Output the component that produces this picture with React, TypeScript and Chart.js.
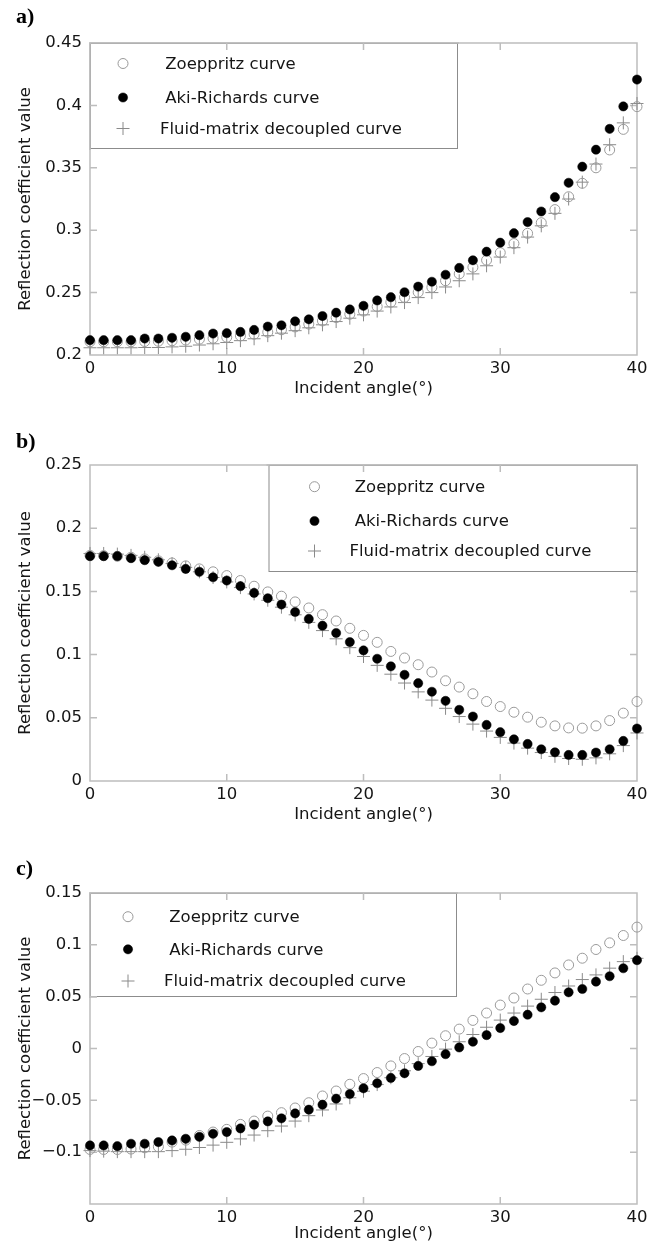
import React, { useEffect, useRef } from 'react';
import { Chart, registerables } from 'chart.js';

Chart.register(...registerables);

const FONT = '"DejaVu Sans", "Liberation Sans", Arial, sans-serif';
const TEXT_COLOR = '#151515';
const FRAME_COLOR = '#bdbdbd';
const LEGEND_BORDER = '#8c8c8c';
const TICK_LEN = 7;

// Incident angle in degrees
const anglesDeg = [
  0, 1, 2, 3, 4, 5, 6, 7, 8, 9, 10, 11, 12, 13, 14, 15, 16, 17, 18, 19, 20,
  21, 22, 23, 24, 25, 26, 27, 28, 29, 30, 31, 32, 33, 34, 35, 36, 37, 38, 39, 40,
];

const seriesLabels = [' Zoeppritz curve', ' Aki-Richards curve', 'Fluid-matrix decoupled curve'];

const xTickValues = [0, 10, 20, 30, 40];
const xTickLabels = ['0', '10', '20', '30', '40'];
const xAxisTitle = 'Incident angle(°)';
const yAxisTitle = 'Reflection coefficient value';

// ---- Panel a ----
const zoeppritzA = [
  0.2106, 0.2106, 0.2106, 0.2106, 0.2108, 0.211, 0.2114, 0.212, 0.2127, 0.2134, 0.2142,
  0.2153, 0.2167, 0.2183, 0.2202, 0.2225, 0.2248, 0.2273, 0.23, 0.2327, 0.2352,
  0.2388, 0.2423, 0.2462, 0.2503, 0.2542, 0.2595, 0.265, 0.2703, 0.276, 0.282,
  0.2893, 0.2975, 0.306, 0.3165, 0.3268, 0.3376, 0.35, 0.3643, 0.3808, 0.399,
];
const akiRichardsA = [
  0.2119, 0.2119, 0.2119, 0.2119, 0.2132, 0.2132, 0.2138, 0.2146, 0.2159, 0.2172, 0.2175,
  0.2185, 0.2201, 0.2228, 0.2238, 0.227, 0.2286, 0.2312, 0.2339, 0.2365, 0.2394,
  0.2437, 0.2463, 0.2503, 0.2548, 0.2587, 0.2643, 0.2698, 0.2759, 0.2828, 0.29,
  0.2976, 0.3065, 0.315, 0.3265, 0.338, 0.3509, 0.3645, 0.3812, 0.3992, 0.4207,
];
const fluidMatrixA = [
  0.2058, 0.2058, 0.2058, 0.2058, 0.206, 0.206, 0.2065, 0.207, 0.208, 0.209, 0.21,
  0.2115, 0.213, 0.2155, 0.2175, 0.2195, 0.2218, 0.2242, 0.2268, 0.2295, 0.2322,
  0.2352, 0.2385, 0.242, 0.246, 0.25, 0.2545, 0.2595, 0.265, 0.2715, 0.2785,
  0.286, 0.2945, 0.3035, 0.3135, 0.325, 0.3385, 0.353, 0.3685, 0.386, 0.4015,
];
const yTickValuesA = [0.2, 0.25, 0.3, 0.35, 0.4, 0.45];
const yTickLabelsA = ['0.2', '0.25', '0.3', '0.35', '0.4', '0.45'];

// ---- Panel b ----
const zoeppritzB = [
  0.1785, 0.1783, 0.1778, 0.177, 0.1757, 0.1742, 0.1725, 0.1702, 0.1678, 0.1655, 0.1625,
  0.1586, 0.1541, 0.1496, 0.1462, 0.1417, 0.1369, 0.1316, 0.1266, 0.1208, 0.1152,
  0.1097, 0.1025, 0.0973, 0.092, 0.0862, 0.0793, 0.0743, 0.069, 0.0629, 0.0589,
  0.0544, 0.0505, 0.0465, 0.0436, 0.042, 0.0418, 0.0436, 0.0478, 0.0537, 0.0629,
];
const akiRichardsB = [
  0.1779, 0.1779, 0.1779, 0.1763, 0.1747, 0.1734, 0.1707, 0.1678, 0.1655, 0.1612, 0.1586,
  0.1541, 0.1488, 0.1446, 0.1396, 0.1337, 0.1282, 0.1229, 0.1171, 0.1099, 0.1033,
  0.0967, 0.0907, 0.084, 0.0774, 0.0706, 0.0634, 0.0563, 0.051, 0.0444, 0.0386,
  0.033, 0.0293, 0.0251, 0.0227, 0.0206, 0.0206, 0.0225, 0.0251, 0.0317, 0.0415,
];
const fluidMatrixB = [
  0.18, 0.18, 0.1795, 0.1785, 0.177, 0.175, 0.172, 0.169, 0.1655, 0.161, 0.1575,
  0.153, 0.148, 0.143, 0.1375, 0.1315, 0.1255, 0.119, 0.1125, 0.1055, 0.0985,
  0.0915, 0.0845, 0.0775, 0.0705, 0.064, 0.0575, 0.051, 0.045, 0.0395, 0.0345,
  0.03, 0.026, 0.0225, 0.0195, 0.0178, 0.0172, 0.0183, 0.0215, 0.028, 0.038,
];
const yTickValuesB = [0, 0.05, 0.1, 0.15, 0.2, 0.25];
const yTickLabelsB = ['0', '0.05', '0.1', '0.15', '0.2', '0.25'];

// ---- Panel c ----
const zoeppritzC = [
  -0.0974, -0.0974, -0.0974, -0.097, -0.0958, -0.0948, -0.0903, -0.0884, -0.0839, -0.0806, -0.078,
  -0.0732, -0.07, -0.0652, -0.0619, -0.0574, -0.0523, -0.0458, -0.041, -0.0345, -0.029,
  -0.0232, -0.0168, -0.0097, -0.0029, 0.0052, 0.0123, 0.0187, 0.0271, 0.0342, 0.0419,
  0.0487, 0.0574, 0.0658, 0.0729, 0.0806, 0.0871, 0.0955, 0.1019, 0.109, 0.1171,
];
const akiRichardsC = [
  -0.0935, -0.0935, -0.0942, -0.0919, -0.0919, -0.0903, -0.0887, -0.0871, -0.0852, -0.0823, -0.0806,
  -0.0771, -0.0735, -0.0703, -0.0674, -0.0626, -0.059, -0.0542, -0.0484, -0.0439, -0.0384,
  -0.0335, -0.0284, -0.0239, -0.0168, -0.0123, -0.0055, 0.001, 0.0065, 0.0129, 0.0197,
  0.0265, 0.0326, 0.0397, 0.0461, 0.0542, 0.0574, 0.0645, 0.0697, 0.0774, 0.0852,
];
const fluidMatrixC = [
  -0.0985, -0.099, -0.0995, -0.0995, -0.0995, -0.0995, -0.0985, -0.0972, -0.0955, -0.0932, -0.0905,
  -0.0872, -0.0835, -0.0793, -0.0748, -0.07, -0.0648, -0.0593, -0.0535, -0.0475, -0.0412,
  -0.0348, -0.0282, -0.0215, -0.0146, -0.0077, -0.0006, 0.0065, 0.0135, 0.0205, 0.0274,
  0.0342, 0.0409, 0.0475, 0.054, 0.0603, 0.0665, 0.071, 0.0775, 0.0838, 0.087,
];
const yTickValuesC = [-0.1, -0.05, 0, 0.05, 0.1, 0.15];
const yTickLabelsC = ['\u22120.1', '\u22120.05', '0', '0.05', '0.1', '0.15'];

type LegendLayout = {
  left: number; // box left, relative to chart area left
  right: number; // box right, relative to chart area left
  height: number;
  markerDx: number;
  textDx: number;
  rows: number[];
};

type PanelSpec = {
  letter: string;
  letterTop: number;
  canvasTop: number;
  padTop: number;
  plotH: number;
  xAxisH: number;
  yMin: number;
  yMax: number;
  yTickValues: number[];
  yTickLabels: string[];
  series: number[][];
  legend: LegendLayout;
};

const panels: PanelSpec[] = [
  {
    letter: 'a)', letterTop: 5, canvasTop: 0, padTop: 43, plotH: 312, xAxisH: 44,
    yMin: 0.2, yMax: 0.45, yTickValues: yTickValuesA, yTickLabels: yTickLabelsA,
    series: [zoeppritzA, akiRichardsA, fluidMatrixA],
    legend: { left: 0, right: 367, height: 105, markerDx: 33, textDx: 70, rows: [20.5, 54.5, 85.5] },
  },
  {
    letter: 'b)', letterTop: 429.5, canvasTop: 420, padTop: 45, plotH: 316, xAxisH: 44,
    yMin: 0, yMax: 0.25, yTickValues: yTickValuesB, yTickLabels: yTickLabelsB,
    series: [zoeppritzB, akiRichardsB, fluidMatrixB],
    legend: { left: 178.5, right: 547, height: 106, markerDx: 46, textDx: 81, rows: [21.7, 56, 86] },
  },
  {
    letter: 'c)', letterTop: 856.5, canvasTop: 850, padTop: 43, plotH: 311, xAxisH: 40,
    yMin: -0.15, yMax: 0.15, yTickValues: yTickValuesC, yTickLabels: yTickLabelsC,
    series: [zoeppritzC, akiRichardsC, fluidMatrixC],
    legend: { left: 0, right: 366, height: 103, markerDx: 38, textDx: 74, rows: [23.7, 56.3, 88] },
  },
];

// Marker styles for the three curves
const seriesStyles = [
  { pointStyle: 'circle', pointRadius: 5, pointBackgroundColor: 'rgba(255,255,255,0)', pointBorderColor: '#9a9a9a', pointBorderWidth: 1, order: 1 },
  { pointStyle: 'circle', pointRadius: 4.6, pointBackgroundColor: '#000000', pointBorderColor: '#000000', pointBorderWidth: 0.5, order: 0 },
  { pointStyle: 'cross', pointRadius: 6.5, pointBackgroundColor: '#8a8a8a', pointBorderColor: '#8a8a8a', pointBorderWidth: 1, order: 2 },
];

function drawFrame(chart: any) {
  const { ctx, chartArea } = chart;
  const { left, right, top, bottom } = chartArea;
  const xs = chart.scales.x;
  const ys = chart.scales.y;
  ctx.save();
  ctx.strokeStyle = FRAME_COLOR;
  ctx.lineWidth = 1.5;
  ctx.strokeRect(left, top, right - left, bottom - top);
  ctx.beginPath();
  xs.ticks.forEach((t: any) => {
    const px = xs.getPixelForValue(t.value);
    if (px <= left + 1 || px >= right - 1) return;
    ctx.moveTo(px, bottom);
    ctx.lineTo(px, bottom - TICK_LEN);
    ctx.moveTo(px, top);
    ctx.lineTo(px, top + TICK_LEN);
  });
  ys.ticks.forEach((t: any) => {
    const py = ys.getPixelForValue(t.value);
    if (py <= top + 1 || py >= bottom - 1) return;
    ctx.moveTo(left, py);
    ctx.lineTo(left + TICK_LEN, py);
    ctx.moveTo(right, py);
    ctx.lineTo(right - TICK_LEN, py);
  });
  ctx.stroke();
  ctx.restore();
}

function drawMarker(ctx: CanvasRenderingContext2D, ds: any, x: number, y: number) {
  const r = ds.pointRadius;
  ctx.save();
  ctx.lineWidth = ds.pointBorderWidth;
  ctx.strokeStyle = ds.pointBorderColor;
  ctx.fillStyle = ds.pointBackgroundColor;
  ctx.beginPath();
  if (ds.pointStyle === 'cross') {
    ctx.moveTo(x, y - r);
    ctx.lineTo(x, y + r);
    ctx.moveTo(x - r, y);
    ctx.lineTo(x + r, y);
    ctx.stroke();
  } else {
    ctx.arc(x, y, r, 0, Math.PI * 2);
    ctx.fill();
    ctx.stroke();
  }
  ctx.restore();
}

const frameLegendPlugin = {
  id: 'frameLegend',
  beforeDatasetsDraw(chart: any) {
    drawFrame(chart);
  },
  afterDatasetsDraw(chart: any, _args: any, opts: any) {
    const lg: LegendLayout = opts.layout;
    if (!lg) return;
    const { ctx, chartArea } = chart;
    const x0 = chartArea.left + lg.left;
    const x1 = chartArea.left + lg.right;
    const y0 = chartArea.top;
    const y1 = chartArea.top + lg.height;
    ctx.save();
    ctx.fillStyle = '#ffffff';
    ctx.fillRect(x0, y0, x1 - x0, y1 - y0);
    ctx.strokeStyle = LEGEND_BORDER;
    ctx.lineWidth = 1;
    ctx.strokeRect(x0 + 0.5, y0 + 0.5, x1 - x0, y1 - y0);
    chart.data.datasets.forEach((ds: any, i: number) => {
      const cy = y0 + lg.rows[i];
      drawMarker(ctx, ds, x0 + lg.markerDx, cy);
      ctx.fillStyle = TEXT_COLOR;
      ctx.font = `16.5px ${FONT}`;
      ctx.textBaseline = 'middle';
      ctx.textAlign = 'left';
      ctx.fillText(ds.label, x0 + lg.textDx, cy + 1);
    });
    // axis frame and inward ticks stay visible above the legend box
    ctx.beginPath();
    ctx.rect(x0 - 2, y0 - 2, x1 - x0 + 4, y1 - y0 + 4);
    ctx.clip();
    drawFrame(chart);
    ctx.restore();
  },
};

function buildConfig(spec: PanelSpec): any {
  return {
    type: 'scatter',
    data: {
      datasets: spec.series.map((values, i) => ({
        label: seriesLabels[i],
        data: anglesDeg.map((a, j) => ({ x: a, y: values[j] })),
        showLine: false,
        clip: false,
        ...seriesStyles[i],
      })),
    },
    options: {
      animation: false,
      responsive: false,
      devicePixelRatio: 1,
      events: [],
      layout: { padding: { left: 0, right: 25, top: spec.padTop, bottom: 0 } },
      plugins: {
        legend: { display: false },
        tooltip: { enabled: false },
        frameLegend: { layout: spec.legend },
      },
      scales: {
        x: {
          type: 'linear',
          min: 0,
          max: 40,
          grid: { display: false, drawTicks: false },
          border: { display: false },
          afterBuildTicks: (s: any) => {
            s.ticks = xTickValues.map((v) => ({ value: v }));
          },
          afterFit: (s: any) => {
            s.height = spec.xAxisH;
          },
          ticks: {
            padding: 4,
            maxRotation: 0,
            autoSkip: false,
            color: TEXT_COLOR,
            font: { family: FONT, size: 16.5 },
            callback: (_v: any, i: number) => xTickLabels[i],
          },
          title: {
            display: true,
            text: xAxisTitle,
            color: TEXT_COLOR,
            font: { family: FONT, size: 16.5 },
            padding: { top: 0, bottom: 0 },
          },
        },
        y: {
          type: 'linear',
          min: spec.yMin,
          max: spec.yMax,
          grid: { display: false, drawTicks: false },
          border: { display: false },
          afterBuildTicks: (s: any) => {
            s.ticks = spec.yTickValues.map((v) => ({ value: v }));
          },
          afterFit: (s: any) => {
            s.width = 90;
          },
          ticks: {
            padding: 8,
            autoSkip: false,
            color: TEXT_COLOR,
            font: { family: FONT, size: 16.5 },
            callback: (_v: any, i: number) => spec.yTickLabels[i],
          },
          title: {
            display: true,
            text: yAxisTitle,
            color: TEXT_COLOR,
            font: { family: FONT, size: 16.5 },
            padding: { top: 16, bottom: 0 },
          },
        },
      },
    },
    plugins: [frameLegendPlugin],
  };
}

function Panel({ spec }: { spec: PanelSpec }) {
  const ref = useRef<HTMLCanvasElement>(null);
  const height = spec.padTop + spec.plotH + spec.xAxisH;
  useEffect(() => {
    if (!ref.current) return;
    const chart = new Chart(ref.current, buildConfig(spec));
    return () => chart.destroy();
  }, [spec]);
  return (
    <>
      <canvas
        ref={ref}
        width={662}
        height={height}
        style={{ position: 'absolute', left: 0, top: spec.canvasTop, width: 662, height }}
      />
      <div
        style={{
          position: 'absolute',
          left: 16,
          top: spec.letterTop,
          font: 'bold 22px "Liberation Serif", "Times New Roman", serif',
          lineHeight: '22px',
          color: '#000',
        }}
      >
        {spec.letter}
      </div>
    </>
  );
}

export default function App() {
  return (
    <div style={{ position: 'absolute', left: 0, top: 0, width: 662, height: 1246, background: '#fff' }}>
      {panels.map((p) => (
        <Panel key={p.letter} spec={p} />
      ))}
    </div>
  );
}
